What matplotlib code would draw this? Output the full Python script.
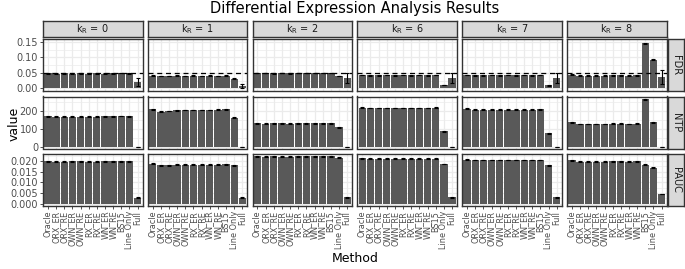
import numpy as np
import matplotlib
matplotlib.use("Agg")
import matplotlib.pyplot as plt
from matplotlib.ticker import MultipleLocator

methods = ["Oracle", "ORX_ER", "ORX_RE", "OWN_ER", "OWN_RE", "RX_ER", "RX_RE",
           "WN_ER", "WN_RE", "BS15", "Line Only", "Full"]
k_values = [0, 1, 2, 6, 7, 8]
metrics = ["FDR", "NTP", "PAUC"]

# one row per k_R, one value per method
fdr_vals = [
    [0.048, 0.047, 0.048, 0.047, 0.048, 0.047, 0.048, 0.047, 0.048, 0.049, 0.048, 0.021],
    [0.041, 0.040, 0.040, 0.041, 0.040, 0.041, 0.040, 0.041, 0.040, 0.041, 0.031, 0.007],
    [0.049, 0.049, 0.048, 0.049, 0.048, 0.049, 0.049, 0.049, 0.049, 0.049, 0.040, 0.032],
    [0.043, 0.042, 0.042, 0.043, 0.042, 0.043, 0.042, 0.043, 0.042, 0.043, 0.011, 0.033],
    [0.043, 0.042, 0.042, 0.043, 0.042, 0.043, 0.042, 0.043, 0.042, 0.043, 0.010, 0.033],
    [0.044, 0.041, 0.041, 0.041, 0.041, 0.042, 0.042, 0.041, 0.042, 0.145, 0.092, 0.037],
]
fdr_err = [
    [0.001] * 11 + [0.012],
    [0.001] * 11 + [0.006],
    [0.001] * 11 + [0.016],
    [0.001] * 11 + [0.015],
    [0.001] * 11 + [0.015],
    [0.001] * 9 + [0.002, 0.002, 0.022],
]
ntp_vals = [
    [171, 168, 168, 169, 169, 168, 169, 170, 170, 172, 171, 0],
    [210, 197, 200, 204, 205, 205, 205, 205, 207, 210, 163, 0],
    [133, 131, 132, 132, 131, 133, 133, 133, 133, 133, 110, 0],
    [218, 217, 217, 217, 217, 217, 217, 217, 217, 218, 88, 0],
    [212, 207, 207, 207, 207, 208, 208, 208, 208, 209, 78, 0],
    [137, 128, 128, 128, 129, 130, 130, 129, 130, 265, 137, 0],
]
ntp_err = [[2] * 11 + [0.5]] * 6
pauc_vals = [
    [0.0198, 0.0197, 0.0197, 0.0198, 0.0198, 0.0197, 0.0197, 0.0198, 0.0198, 0.0198, 0.0198, 0.0027],
    [0.0187, 0.0181, 0.0181, 0.0182, 0.0183, 0.0183, 0.0183, 0.0183, 0.0183, 0.0184, 0.0180, 0.0027],
    [0.0223, 0.0221, 0.0222, 0.0221, 0.0221, 0.0222, 0.0222, 0.0222, 0.0222, 0.0222, 0.0215, 0.0030],
    [0.0212, 0.0211, 0.0211, 0.0211, 0.0211, 0.0211, 0.0211, 0.0211, 0.0211, 0.0211, 0.0186, 0.0030],
    [0.0206, 0.0205, 0.0205, 0.0205, 0.0205, 0.0205, 0.0205, 0.0205, 0.0205, 0.0205, 0.0180, 0.0030],
    [0.0204, 0.0196, 0.0196, 0.0196, 0.0197, 0.0198, 0.0198, 0.0197, 0.0198, 0.0182, 0.0168, 0.0045],
]
pauc_err = [[0.0002] * 12] * 6

values = {"FDR": fdr_vals, "NTP": ntp_vals, "PAUC": pauc_vals}
errors = {"FDR": fdr_err, "NTP": ntp_err, "PAUC": pauc_err}
ylims = {"FDR": (-0.0085, 0.159), "NTP": (-6, 280), "PAUC": (-0.0011, 0.0233)}
majors = {"FDR": 0.05, "NTP": 100, "PAUC": 0.005}
fmt = {"FDR": "{:.2f}", "NTP": "{:.0f}", "PAUC": "{:.3f}"}

W, H = 685, 269
fig = plt.figure(figsize=(W / 100, H / 100), dpi=100)

col_left = [43 + i * 104.8 for i in range(6)]
pw = 99.5
row_top = [39, 96.5, 154]
ph = 52
bar_color = "#595959"
grid_color = "#ebebeb"
tick_color = "#4d4d4d"

def px(x, y, w, h):
    return [x / W, 1 - (y + h) / H, w / W, h / H]

x = np.arange(len(methods))
for r, m in enumerate(metrics):
    for c, k in enumerate(k_values):
        ax = fig.add_axes(px(col_left[c], row_top[r], pw, ph))
        ax.set_axisbelow(True)
        ax.bar(x, values[m][c], width=0.9, color=bar_color, zorder=2)
        ax.errorbar(x, values[m][c], yerr=errors[m][c], fmt="none", ecolor="black",
                    elinewidth=0.8, capsize=1.2, capthick=0.8, zorder=3)
        if m == "FDR":
            ax.axhline(0.05, color="black", linestyle=(0, (4, 3)), linewidth=0.9, zorder=4)
        ax.set_xlim(-0.6, 11.6)
        ax.set_ylim(*ylims[m])
        ax.yaxis.set_major_locator(MultipleLocator(majors[m]))
        ax.yaxis.set_minor_locator(MultipleLocator(majors[m] / 2))
        ax.set_xticks(x)
        ax.grid(True, which="major", color=grid_color, linewidth=0.9, zorder=0)
        ax.grid(True, which="minor", axis="y", color=grid_color, linewidth=0.5, zorder=0)
        for s in ax.spines.values():
            s.set_color("#333333")
            s.set_linewidth(1.0)
        ax.tick_params(which="minor", length=0)
        ax.tick_params(which="major", length=2.5, width=0.6, color="#333333",
                       labelsize=7, labelcolor=tick_color, pad=1)
        if c == 0:
            ax.set_yticklabels([fmt[m].format(t) for t in ax.get_yticks()])
        else:
            ax.tick_params(axis="y", labelleft=False, length=0)
        if r == 2:
            ax.set_xticklabels(methods, rotation=90, fontsize=5.9, color=tick_color)
        else:
            ax.tick_params(axis="x", labelbottom=False, length=0)

        if r == 0:
            sax = fig.add_axes(px(col_left[c], 21, pw, 16))
            sax.set_facecolor("#d9d9d9")
            sax.set_xticks([]); sax.set_yticks([])
            for s in sax.spines.values():
                s.set_color("#333333"); s.set_linewidth(1.0)
            sax.text(0.5, 0.5, r"$\mathregular{k_R}$ = %d" % k, ha="center", va="center",
                     fontsize=7, color="#1a1a1a", transform=sax.transAxes)
        if c == 5:
            sax = fig.add_axes(px(col_left[c] + pw + 1, row_top[r], 16, ph))
            sax.set_facecolor("#d9d9d9")
            sax.set_xticks([]); sax.set_yticks([])
            for s in sax.spines.values():
                s.set_color("#333333"); s.set_linewidth(1.0)
            sax.text(0.5, 0.5, m, ha="center", va="center", rotation=-90,
                     fontsize=7, color="#1a1a1a", transform=sax.transAxes)

fig.text(355 / W, 1 - 8 / H, "Differential Expression Analysis Results",
         ha="center", va="center", fontsize=10.5)
fig.text(14 / W, 1 - 124 / H, "value", ha="center", va="center", rotation=90, fontsize=9)
fig.text(355 / W, 1 - 259 / H, "Method", ha="center", va="center", fontsize=9)

fig.savefig("out.png", dpi=100)
